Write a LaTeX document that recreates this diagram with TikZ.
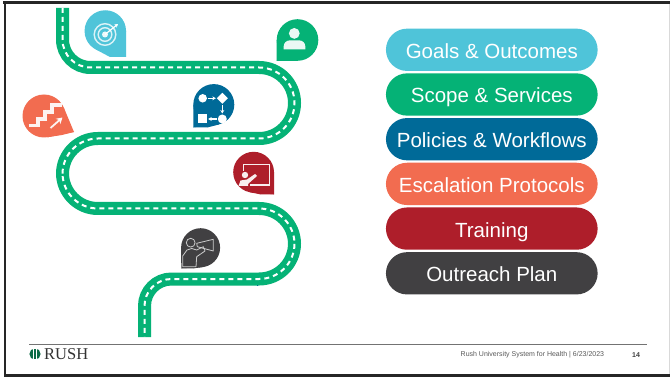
\documentclass[tikz,border=0pt]{standalone}
\usepackage{fontspec}
\setmainfont{Liberation Sans}
\newfontfamily\rushserif{Liberation Serif}
\usetikzlibrary{calc,positioning,shapes.misc,shapes.geometric,arrows.meta}
\definecolor{rushteal}{HTML}{4FC4D9}
\definecolor{rushgreen}{HTML}{05B276}
\definecolor{rushblue}{HTML}{006A98}
\definecolor{rushorange}{HTML}{F26C50}
\definecolor{rushred}{HTML}{AE1E2A}
\definecolor{rushdark}{HTML}{414042}
\definecolor{rushlogo}{HTML}{0B6B45}
\tikzset{
  pill/.style={rounded rectangle,minimum width=211.7pt,minimum height=42.3pt,inner sep=0pt,outer sep=0pt,
    text=white,text height=17pt,text depth=0pt,font=\fontsize{20.5}{22}\selectfont},
  road/.style={line width=13pt,draw=rushgreen},
  roadmark/.style={line width=2pt,draw=white,dash pattern=on 5pt off 4pt},
  iconline/.style={draw=white,line width=1.2pt},
  iconarrow/.style={iconline,-{Stealth[length=3.5pt,width=4pt]}},
  flowshape/.style={fill=white,inner sep=0pt,outer sep=0pt},
  megaline/.style={draw=black!20,line width=0.8pt,line join=round}
}
\begin{document}
\begin{tikzpicture}[x=1pt,y=-1pt,node distance=2.4pt]
  \useasboundingbox (0,0) rectangle (670,377);
  \fill[white] (0,0) rectangle (670,377);
  % slide edges
  \fill[black!85] (3,1) rectangle (670,3.6);
  \fill[black!85] (3.6,1) rectangle (6,377);
  \fill[black!85] (3.6,374.2) rectangle (670,377);
  \fill[black!15] (668.6,3.6) rectangle (669.6,374.2);
  % the road
  \foreach \roadstyle in {road,roadmark}
    \draw[\roadstyle] (62.5,8) [rounded corners=28pt] -- (62.5,67.5) [rounded corners=35.4pt] -- (294.5,67.5) -- (294.5,138.5)
      -- (62.5,138.5) -- (62.5,208.5) -- (294.5,208.5) -- (294.5,279) [rounded corners=27pt] -- (144.5,279) -- (144.5,337);
  \fill[rushblue] (257.2,284.5) rectangle (258.2,285.5);
  % drops
  \foreach \dropname/\dropcol/\cx/\cy/\dia/\tipx/\tipy/\flatx/\flaty in {
      goalsdrop/rushteal/105.3/31/41.5/126/57/110/57,
      scopedrop/rushgreen/297.5/40/41.6/276.7/61/292/61,
      policiesdrop/rushblue/213.8/104.6/41/193.3/127.3/208/127.3,
      escalationdrop/rushorange/44/116/43/74/132/62/135,
      trainingdrop/rushred/253.6/172.2/40.8/274/194.3/260/194.3,
      outreachdrop/rushdark/200.6/247.7/39/181.3/268.3/194/268.3}{
    \node[circle,fill=\dropcol,minimum size=\dia pt,inner sep=0pt,outer sep=0pt] (\dropname) at (\cx,\cy) {};
    \coordinate (\dropname tip) at (\tipx,\tipy);
    \coordinate (\dropname flat) at (\flatx,\flaty);
    \fill[\dropcol] (\dropname tip) -- (tangent cs:node=\dropname,point={(\dropname tip)},solution=1)
      -- (\dropname.center) -- (tangent cs:node=\dropname,point={(\dropname tip)},solution=2) -- cycle;
    \fill[\dropcol] (\dropname flat) -- (tangent cs:node=\dropname,point={(\dropname flat)},solution=1)
      -- (\dropname.center) -- (tangent cs:node=\dropname,point={(\dropname flat)},solution=2) -- cycle;
    \fill[\dropcol] (\dropname tip) -- (\dropname flat) -- (\dropname.center) -- cycle;
  }
  % target
  \draw[white,line width=1.4pt,opacity=.8] (105,34.5) circle (10.8pt) (105,34.5) circle (6.8pt);
  \fill[white,opacity=.9] (105,34.5) circle (3pt);
  \draw[iconarrow] (105,34.5) -- (118,24);
  % person
  \fill[white,opacity=.92] (294.3,33.4) circle (5.4pt);
  \fill[white,opacity=.92] (283.7,49.4) [rounded corners=6pt] -- (283.7,40.4) -- (305.3,40.4) [sharp corners] -- (305.3,49.4) -- cycle;
  % workflow
  \node[flowshape,circle,minimum size=8.5pt] (flowstart) at (202.7,98.3) {};
  \node[flowshape,diamond,minimum size=11pt] (flowcheck) at (222.3,98.3) {};
  \node[flowshape,circle,minimum size=9pt] (flowstep) at (222.3,119) {};
  \node[flowshape,minimum size=9pt] (flowend) at (202.7,119) {};
  \draw[iconarrow,shorten <=1pt,shorten >=1pt] (flowstart) -- (flowcheck);
  \draw[iconarrow,shorten <=1pt,shorten >=1pt] (flowcheck) -- (flowstep);
  \draw[iconarrow,shorten <=1pt,shorten >=1pt] (flowstep) -- (flowend);
  % stairs
  \draw[white,line width=3.2pt,opacity=.92] (28.5,125.5) -- (38,125.5) -- (38,119) -- (45,119) -- (45,112) -- (52,112) -- (52,105) -- (61.5,105);
  \draw[white,line width=1.8pt,opacity=.92,-{Stealth[length=6pt,width=7pt]}] (50.5,128) -- (62.5,117.5);
  % training
  \draw[iconline,opacity=.92] (243.8,171) -- (243.8,164.5) -- (269.5,164.5) -- (269.5,185) -- (250,185);
  \fill[white,opacity=.92] (245,175) circle (3.2pt);
  \fill[white,opacity=.92] (238.5,186) -- (240.5,180.5) -- (247,179.5) -- (255,174) -- (257,176) -- (248,184) -- (248,186) -- cycle;
  % outreach
  \draw[megaline] (190.7,242.7) circle (4.4pt);
  \draw[megaline] (187.3,266.7) -- (182.7,266.7) -- (182.7,256) -- (187,250) -- (191.7,248.5) -- (196.7,250) -- (203.3,246.7) -- (205,251) -- (196.7,256.7) -- (196,266.7) -- cycle;
  \draw[megaline] (196.7,243.3) -- (213.3,239.3) -- (213.3,251) -- (197.3,246.7) -- cycle;
  % list
  \node[pill,fill=rushteal] (goals) at (491.8,49.8) {Goals \& Outcomes};
  \node[pill,fill=rushgreen] (scope) [below=of goals] {Scope \& Services};
  \node[pill,fill=rushblue] (policies) [below=of scope] {Policies \& Workflows};
  \node[pill,fill=rushorange] (escalation) [below=of policies] {Escalation Protocols};
  \node[pill,fill=rushred] (training) [below=of escalation] {Training};
  \node[pill,fill=rushdark] (outreach) [below=of training] {Outreach Plan};
  % footer
  \coordinate (footleft) at (29,344);
  \coordinate (footright) at (647,344);
  \draw[black!55,line width=.8pt] (footleft) -- (footright);
  \fill[rushlogo] (35,354) circle (5.6pt);
  \fill[white] (33.4,348) rectangle (36.6,360);
  \fill[rushlogo] (34.2,349.2) rectangle (35.8,358.5);
  \node[inner sep=0pt,anchor=west,text=black!80,font=\rushserif\fontsize{16.5}{18}\selectfont] (rushword) at (44,354.5) {RUSH};
  \node[inner sep=0pt,anchor=west,text=black!65,font=\fontsize{7}{8}\selectfont] (footnote) at (460.5,355) {Rush University System for Health~|~6/23/2023};
  \node[inner sep=0pt,text=black!75,font=\bfseries\fontsize{7}{8}\selectfont] (pagenum) at (636,355) {14};
\end{tikzpicture}
\end{document}
